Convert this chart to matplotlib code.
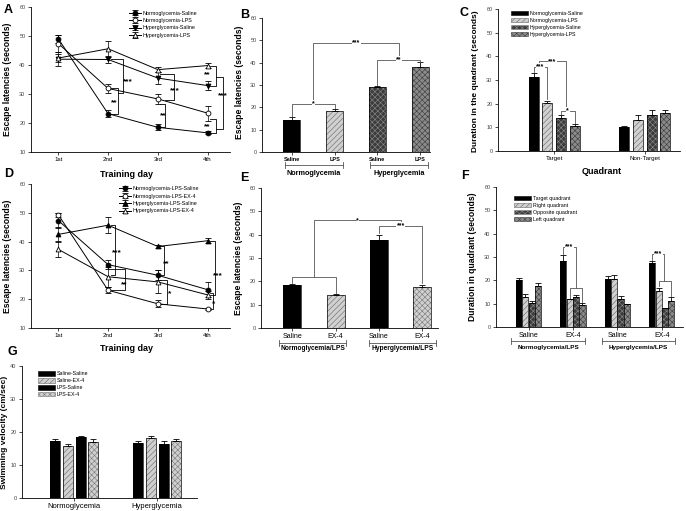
import numpy as np
import matplotlib
matplotlib.use("Agg")
import matplotlib.pyplot as plt
import matplotlib.patches as mpatches
from matplotlib.transforms import blended_transform_factory

plt.rcParams['font.family'] = ['Liberation Sans', 'DejaVu Sans']
plt.rcParams['hatch.linewidth'] = 0.4

# ---------------- data ----------------
days = ['1st', '2nd', '3rd', '4th']

# A: escape latencies, LPS experiment
a_ns = [49.0, 23.2, 18.5, 16.6]
a_ns_err = [1.5, 1.2, 1.0, 0.5]
a_nl = [47.4, 31.9, 28.3, 23.4]
a_nl_err = [2.8, 1.5, 1.8, 2.6]
a_hs = [42.0, 41.9, 35.5, 32.9]
a_hs_err = [2.5, 1.2, 2.0, 1.5]
a_hl = [42.4, 45.6, 38.4, 39.8]
a_hl_err = [1.5, 2.8, 0.8, 1.0]
a_labels = ['Normoglycemia-Saline', 'Normoglycemia-LPS',
            'Hyperglycemia-Saline', 'Hyperglycemia-LPS']

# B: probe trial escape latencies
b_ticks = ['Saline', 'LPS', 'Saline', 'LPS']
b_vals = [14.3, 18.5, 29.1, 38.0]
b_err = [1.5, 0.6, 0.3, 2.2]

# C: duration in quadrant
c_groups = ['Target', 'Non-Target']
c_ns = [31.2, 10.0]
c_ns_err = [1.7, 0.5]
c_nl = [20.2, 13.3]
c_nl_err = [1.1, 2.0]
c_hs = [14.1, 15.4]
c_hs_err = [1.3, 1.8]
c_hl = [10.4, 16.1]
c_hl_err = [1.2, 1.3]

# D: escape latencies, EX-4 experiment
d_ns = [47.3, 32.0, 28.3, 23.3]
d_ns_err = [2.5, 1.5, 1.8, 2.5]
d_ne = [49.3, 23.1, 18.4, 16.6]
d_ne_err = [0.7, 1.0, 1.2, 0.3]
d_hs = [42.5, 45.7, 38.3, 40.3]
d_hs_err = [2.5, 2.7, 0.6, 0.8]
d_he = [37.3, 27.8, 26.0, 21.5]
d_he_err = [2.8, 3.5, 4.0, 1.3]
d_labels = ['Normoglycemia-LPS-Saline', 'Normoglycemia-LPS-EX-4',
            'Hyperglycemia-LPS-Saline', 'Hyperglycemia-LPS-EX-4']

# E
e_ticks = ['Saline', 'EX-4', 'Saline', 'EX-4']
e_vals = [18.5, 14.1, 37.9, 17.4]
e_err = [0.5, 0.5, 2.1, 1.2]

# F
f_ticks = ['Saline', 'EX-4', 'Saline', 'EX-4']
f_target = [20.1, 28.4, 20.5, 27.4]
f_target_err = [1.0, 2.3, 1.3, 1.0]
f_right = [12.7, 11.8, 20.5, 15.6]
f_right_err = [1.3, 0.3, 1.6, 1.3]
f_opp = [10.1, 12.8, 11.9, 8.1]
f_opp_err = [1.0, 0.8, 1.5, 0.0]
f_left = [17.6, 9.5, 9.7, 11.0]
f_left_err = [1.1, 0.7, 0.0, 2.0]
f_labels = ['Target quadrant', 'Right quadrant', 'Opposite quadrant', 'Left quadrant']

# G
g_groups = ['Normoglycemia', 'Hyperglycemia']
g_ss = [17.3, 16.8]
g_ss_err = [0.5, 0.4]
g_se = [15.8, 18.1]
g_se_err = [0.6, 0.6]
g_ls = [18.5, 16.5]
g_ls_err = [0.3, 0.8]
g_le = [16.9, 17.3]
g_le_err = [0.9, 0.5]
g_labels = ['Saline-Saline', 'Saline-EX-4', 'LPS-Saline', 'LPS-EX-4']

# ---------------- helpers ----------------
W, H = 686, 511
fig = plt.figure(figsize=(W / 100, H / 100), dpi=100)

FILLS = {
    'black': ('black', None, 'black'),
    'light': ('#d0d0d0', '//////', '#666666'),
    'dark': ('#3c3c3c', 'xxxxxx', '#8c8c8c'),
    'mid': ('#8a8a8a', 'xxxxxx', '#3a3a3a'),
    'lightx': ('#d0d0d0', 'xxxxxx', '#777777'),
}


def px_axes(l, t, r, b):
    return fig.add_axes([l / W, 1 - b / H, (r - l) / W, (b - t) / H])


def style(ax, ylim, step):
    for s in ['top', 'right']:
        ax.spines[s].set_visible(False)
    for s in ['left', 'bottom']:
        ax.spines[s].set_linewidth(0.6)
    ax.set_ylim(*ylim)
    ax.set_yticks(np.arange(ylim[0], ylim[1] + 1, step))
    ax.tick_params(axis='y', labelsize=4, length=2, width=0.5, pad=2, labelcolor='#444444')
    ax.tick_params(axis='x', labelsize=4.5, length=2, width=0.5, pad=1.5)


def bars(ax, xs, vals, errs, fill, width):
    fc, hatch, hc = FILLS[fill]
    ax.bar(xs, vals, width, color=fc, hatch=hatch, edgecolor=hc, linewidth=0)
    ax.bar(xs, vals, width, fill=False, edgecolor='black', linewidth=0.5)
    ax.errorbar(xs, vals, yerr=[np.zeros(len(vals)), errs], fmt='none',
                ecolor='black', elinewidth=0.6, capsize=2, capthick=0.6)


def fill_patch(fill, label):
    fc, hatch, hc = FILLS[fill]
    return mpatches.Patch(facecolor=fc, hatch=hatch, edgecolor=hc if hatch else 'black',
                          linewidth=0.4, label=label)


def top_bracket(ax, x1, x2, y, y1, y2, label, color='#555555', fs=5):
    ax.plot([x1, x1, x2, x2], [y1, y, y, y2], color=color, lw=0.6)
    if label:
        ax.text((x1 + x2) / 2, y, label, ha='center', va='center', fontsize=fs,
                fontweight='bold', bbox=dict(fc='white', ec='none', pad=0.3))


def side_bracket(ax, x0a, x0b, xv, y1, y2, label, tx, ty, fs=6):
    ax.plot([x0a, xv, xv, x0b], [y1, y1, y2, y2], color='black', lw=0.6)
    ax.text(tx, ty, label, ha='center', va='center', fontsize=fs, fontweight='bold')


def group_bracket(ax, x1, x2, yl, yt, label, fs=5):
    tr = blended_transform_factory(ax.transData, ax.transAxes)
    ax.plot([x1, x2], [yl, yl], transform=tr, color='#555555', lw=0.6, clip_on=False)
    for x in (x1, x2):
        ax.plot([x, x], [yl - 0.02, yl + 0.02], transform=tr, color='#555555', lw=0.6, clip_on=False)
    ax.text((x1 + x2) / 2, yt, label, transform=tr, ha='center', va='center',
            fontsize=fs, fontweight='bold')


def line_series(ax, ys, errs, marker, mfc, label):
    x = np.arange(len(ys))
    ax.errorbar(x, ys, yerr=errs, color='black', lw=0.7, elinewidth=0.5, capsize=2,
                capthick=0.5, marker=marker, ms=3.5, mfc=mfc, mec='black', mew=0.6,
                label=label)


def panel_letter(x, y, s):
    fig.text(x / W, 1 - y / H, s, fontsize=9, fontweight='bold', ha='left', va='center')


# ---------------- A ----------------
axA = px_axes(31, 7, 230, 152)
line_series(axA, a_ns, a_ns_err, 'o', 'black', a_labels[0])
line_series(axA, a_nl, a_nl_err, 'o', 'white', a_labels[1])
line_series(axA, a_hs, a_hs_err, 'v', 'black', a_labels[2])
line_series(axA, a_hl, a_hl_err, '^', 'white', a_labels[3])
style(axA, (10, 60), 10)
axA.set_xlim(-0.55, 3.45)
axA.set_xticks(range(4))
axA.set_xticklabels(days)
axA.set_xlabel('Training day', fontsize=6.5, fontweight='bold')
axA.xaxis.set_label_coords(0.48, -0.125)
axA.set_ylabel('Escape latencies (seconds)', fontsize=6.2, fontweight='bold')
axA.yaxis.set_label_coords(-0.095, 0.5)
axA.legend(loc='upper left', bbox_to_anchor=(0.48, 0.99), fontsize=3.9, frameon=False,
           handlelength=2.2, labelspacing=0.45, borderaxespad=0, handletextpad=0.4)
side_bracket(axA, 1.05, 1.05, 1.2, a_ns[1], a_nl[1], '**', 1.13, 27.0)
side_bracket(axA, 1.2, 1.05, 1.3, 30.5, a_hs[1], '***', 1.4, 34.3)
side_bracket(axA, 2.05, 2.05, 2.15, a_ns[2], 26.5, '**', 2.1, 22.5)
side_bracket(axA, 2.15, 2.05, 2.32, 28.0, a_hs[2] + 1.5, '***', 2.35, 31.0)
side_bracket(axA, 3.05, 3.05, 3.17, a_hs[3], a_hl[3], '**', 3.0, 36.8)
side_bracket(axA, 3.05, 3.05, 3.17, a_ns[3], a_nl[3] - 2, '**', 3.0, 18.8)
side_bracket(axA, 3.17, 3.17, 3.3, 18.0, 36.0, '***', 3.3, 29.4)

# ---------------- B ----------------
axB = px_axes(262, 18, 430, 152)
bx = np.arange(4)
bars(axB, [0], b_vals[:1], b_err[:1], 'black', 0.4)
bars(axB, [1], b_vals[1:2], b_err[1:2], 'light', 0.4)
bars(axB, [2], b_vals[2:3], b_err[2:3], 'dark', 0.4)
bars(axB, [3], b_vals[3:], b_err[3:], 'mid', 0.4)
style(axB, (0, 60), 10)
axB.set_xlim(-0.7, 3.23)
axB.set_xticks(bx)
axB.set_xticklabels(b_ticks, fontweight='bold', fontsize=4)
axB.set_ylabel('Escape latencies (seconds)', fontsize=6.2, fontweight='bold')
axB.yaxis.set_label_coords(-0.107, 0.52)
top_bracket(axB, 0, 1, 21.5, b_vals[0] + b_err[0] + 0.5, b_vals[1] + b_err[1] + 0.5, '*')
top_bracket(axB, 2, 3, 41.3, b_vals[2] + b_err[2] + 0.5, b_vals[3] + b_err[3] + 0.3, '**')
top_bracket(axB, 0.5, 2.5, 48.8, 21.5, 41.3, '***')
group_bracket(axB, -0.17, 1.19, -0.097, -0.16, 'Normoglycemia', 5.2)
group_bracket(axB, 1.83, 3.19, -0.097, -0.16, 'Hyperglycemia', 5.2)

# ---------------- C ----------------
axC = px_axes(498, 9, 680, 151)
cx = np.arange(2)
off, wd = 0.151, 0.11
bars(axC, cx - 1.5 * off, c_ns, c_ns_err, 'black', wd)
bars(axC, cx - 0.5 * off, c_nl, c_nl_err, 'light', wd)
bars(axC, cx + 0.5 * off, c_hs, c_hs_err, 'dark', wd)
bars(axC, cx + 1.5 * off, c_hl, c_hl_err, 'mid', wd)
style(axC, (0, 60), 10)
axC.set_xlim(-0.62, 1.39)
axC.set_xticks(cx)
axC.set_xticklabels(c_groups, fontsize=4.5)
axC.set_xlabel('Quadrant', fontsize=6.5, fontweight='bold')
axC.xaxis.set_label_coords(0.57, -0.11)
axC.set_ylabel('Duration in the quadrant (seconds)', fontsize=6.0, fontweight='bold')
axC.yaxis.set_label_coords(-0.104, 0.49)
axC.legend(handles=[fill_patch('black', a_labels[0]), fill_patch('light', a_labels[1]),
                    fill_patch('dark', a_labels[2]), fill_patch('mid', a_labels[3])],
           loc='upper left', bbox_to_anchor=(0.06, 1.0), fontsize=3.8, frameon=False,
           handlelength=3.2, handleheight=0.9, labelspacing=0.35, borderaxespad=0,
           handletextpad=0.4)
top_bracket(axC, -1.5 * off, -0.5 * off, 35.4, 33.5, 21.8, '***')
top_bracket(axC, 0.5 * off, 1.5 * off, 17.1, 15.8, 12.0, '*')
top_bracket(axC, -1.1 * off, 0.85 * off, 37.9, 35.4, 17.1, '***')

# ---------------- D ----------------
axD = px_axes(31, 184, 230, 328)
line_series(axD, d_ns, d_ns_err, 'o', 'black', d_labels[0])
line_series(axD, d_ne, d_ne_err, 'o', 'white', d_labels[1])
line_series(axD, d_hs, d_hs_err, '^', 'black', d_labels[2])
line_series(axD, d_he, d_he_err, '^', 'white', d_labels[3])
style(axD, (10, 60), 10)
axD.set_xlim(-0.55, 3.45)
axD.set_xticks(range(4))
axD.set_xticklabels(days)
axD.set_xlabel('Training day', fontsize=6.5, fontweight='bold')
axD.xaxis.set_label_coords(0.48, -0.11)
axD.set_ylabel('Escape latencies (seconds)', fontsize=6.2, fontweight='bold')
axD.yaxis.set_label_coords(-0.095, 0.5)
axD.legend(loc='upper left', bbox_to_anchor=(0.43, 1.0), fontsize=3.9, frameon=False,
           handlelength=2.2, labelspacing=0.45, borderaxespad=0, handletextpad=0.4)
side_bracket(axD, 1.05, 1.05, 1.13, d_hs[1], 28.5, '***', 1.18, 36.2)
side_bracket(axD, 1.05, 1.05, 1.33, d_ne[1], 30.5, '**', 1.33, 25.0)
side_bracket(axD, 2.05, 2.05, 2.12, d_hs[2], d_ns[2], '**', 2.16, 32.3)
side_bracket(axD, 2.05, 2.05, 2.19, d_ne[2], 26.5, '*', 2.23, 21.9)
side_bracket(axD, 3.05, 3.05, 3.15, d_hs[3], d_he[3], '***', 3.2, 28.1)
side_bracket(axD, 3.05, 3.05, 3.1, d_ne[3], d_ns[3] - 1, '*', 3.12, 18.4)

# ---------------- E ----------------
axE = px_axes(261, 188, 438, 328)
ex = np.arange(4)
bars(axE, [0], e_vals[:1], e_err[:1], 'black', 0.42)
bars(axE, [1], e_vals[1:2], e_err[1:2], 'light', 0.42)
bars(axE, [2], e_vals[2:3], e_err[2:3], 'black', 0.42)
bars(axE, [3], e_vals[3:], e_err[3:], 'lightx', 0.42)
style(axE, (0, 60), 10)
axE.set_xlim(-0.72, 3.36)
axE.set_xticks(ex)
axE.set_xticklabels(e_ticks, fontsize=5)
axE.set_ylabel('Escape latencies (seconds)', fontsize=6.2, fontweight='bold')
axE.yaxis.set_label_coords(-0.10, 0.5)
top_bracket(axE, 0, 1, 21.9, e_vals[0] + e_err[0] + 0.5, e_vals[1] + e_err[1] + 0.5, '')
top_bracket(axE, 2, 3, 43.9, e_vals[2] + e_err[2] + 0.5, e_vals[3] + e_err[3] + 0.5, '***')
top_bracket(axE, 0.5, 2.5, 46.1, 21.9, 43.9, '*')
group_bracket(axE, -0.3, 1.25, -0.107, -0.15, 'Normoglycemia/LPS', 4.8)
group_bracket(axE, 1.78, 3.32, -0.107, -0.15, 'Hyperglycemia/LPS', 4.8)

# ---------------- F ----------------
axF = px_axes(496, 187, 683, 327)
fx = np.arange(4)
off, wd = 0.143, 0.136
bars(axF, fx - 1.5 * off, f_target, f_target_err, 'black', wd)
bars(axF, fx - 0.5 * off, f_right, f_right_err, 'light', wd)
bars(axF, fx + 0.5 * off, f_opp, f_opp_err, 'dark', wd)
bars(axF, fx + 1.5 * off, f_left, f_left_err, 'mid', wd)
style(axF, (0, 60), 10)
axF.set_xlim(-0.735, 3.48)
axF.set_xticks(fx)
axF.set_xticklabels(f_ticks, fontsize=5)
axF.set_ylabel('Duration in quadrant (seconds)', fontsize=6.2, fontweight='bold')
axF.yaxis.set_label_coords(-0.099, 0.5)
axF.legend(handles=[fill_patch('black', f_labels[0]), fill_patch('light', f_labels[1]),
                    fill_patch('dark', f_labels[2]), fill_patch('mid', f_labels[3])],
           loc='upper left', bbox_to_anchor=(0.085, 0.95), fontsize=3.8, frameon=False,
           handlelength=3.2, handleheight=0.9, labelspacing=0.35, borderaxespad=0,
           handletextpad=0.4)
for g, ytop, ylow in [(1, 34.3, 16.7), (3, 31.4, 19.6)]:
    top_bracket(axF, g - 1.5 * off, g + 0.4 * off, ytop,
                f_target[g] + f_target_err[g] + 0.5, ylow, '***')
    axF.plot([g - 0.5 * off, g - 0.5 * off, g + 1.5 * off, g + 1.5 * off],
             [f_right[g] + f_right_err[g] + 0.5, ylow, ylow, f_left[g] + f_left_err[g] + 0.5],
             color='#555555', lw=0.6)
group_bracket(axF, -0.4, 1.28, -0.1, -0.143, 'Normoglycemia/LPS', 4.6)
group_bracket(axF, 1.65, 3.3, -0.1, -0.143, 'Hyperglycemia/LPS', 4.6)

# ---------------- G ----------------
axG = px_axes(22, 366, 197, 498)
gx = np.arange(2)
off, wd = 0.153, 0.12
bars(axG, gx - 1.5 * off, g_ss, g_ss_err, 'black', wd)
bars(axG, gx - 0.5 * off, g_se, g_se_err, 'light', wd)
bars(axG, gx + 0.5 * off, g_ls, g_ls_err, 'black', wd)
bars(axG, gx + 1.5 * off, g_le, g_le_err, 'lightx', wd)
style(axG, (0, 40), 10)
axG.set_xlim(-0.63, 1.48)
axG.set_xticks(gx)
axG.set_xticklabels(g_groups, fontsize=5.5)
axG.set_ylabel('Swimming velocity (cm/sec)', fontsize=6, fontweight='bold')
axG.yaxis.set_label_coords(-0.08, 0.5)
axG.legend(handles=[fill_patch('black', g_labels[0]), fill_patch('light', g_labels[1]),
                    fill_patch('black', g_labels[2]), fill_patch('lightx', g_labels[3])],
           loc='upper left', bbox_to_anchor=(0.08, 0.975), fontsize=3.8, frameon=False,
           handlelength=3.2, handleheight=0.9, labelspacing=0.35, borderaxespad=0,
           handletextpad=0.4)

# panel letters
panel_letter(4, 10, 'A')
panel_letter(240, 15, 'B')
panel_letter(459, 13, 'C')
panel_letter(4, 174, 'D')
panel_letter(240, 178, 'E')
panel_letter(461, 176, 'F')
panel_letter(8, 352, 'G')

fig.savefig('out.png', dpi=100)
